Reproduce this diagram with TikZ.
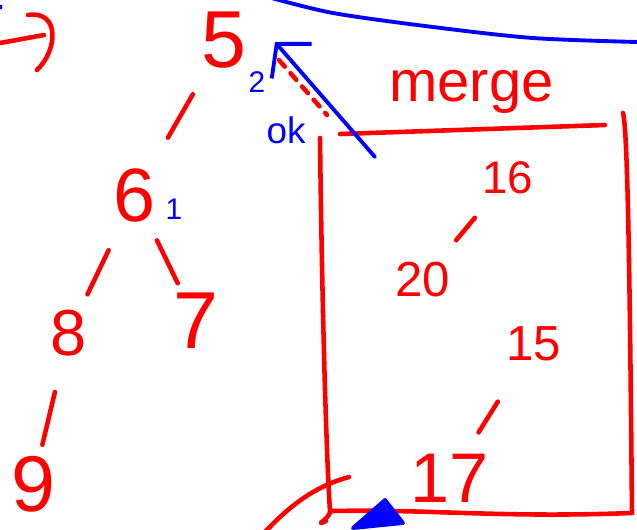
\documentclass[tikz,border=0pt]{standalone}
\usepackage{fontspec}
\setmainfont{Liberation Sans}
\usepackage{tikz}
\usetikzlibrary{arrows.meta,calc}

\begin{document}
\begin{tikzpicture}[x=0.02cm, y=-0.02cm]
\tikzstyle{hk}=[text=red, inner sep=0pt, font=\fontsize{40}{40}\selectfont]
\tikzstyle{hn}=[text=blue, inner sep=0pt, font=\fontsize{17}{17}\selectfont]
\tikzstyle{he}=[draw=red, line width=2.6pt, line cap=round, line join=round]
\tikzstyle{hb}=[draw=blue, line width=2.2pt, line cap=round, line join=round]
\useasboundingbox (0,0) rectangle (637,529);
\clip (0,0) rectangle (637,529);
\node[hk, font=\fontsize{46}{46}\selectfont] (n5) at (224,40) {5};
\node[hk, font=\fontsize{43}{43}\selectfont] (n6) at (135,195) {6};
\node[hk, font=\fontsize{37}{37}\selectfont] (n8) at (69,333) {8};
\node[hk, font=\fontsize{46}{46}\selectfont] (n7) at (196,321) {7};
\node[hk, font=\fontsize{45}{45}\selectfont] (n9) at (33,484) {9};
\node[hk, font=\fontsize{26}{26}\selectfont] (m16) at (508,178) {16};
\node[hk, font=\fontsize{28}{28}\selectfont] (m20) at (423,280) {20};
\node[hk, font=\fontsize{28}{28}\selectfont] (m15) at (534,344) {15};
\node[hk, font=\fontsize{40}{40}\selectfont] (m17) at (450,478) {17};
\node[hk, font=\fontsize{33}{33}\selectfont, anchor=base west] (mg) at (389,101) {merge};
\node[hn] (c2) at (257,82) {2};
\node[hn] (c1) at (174,209) {1};
\node[hn, font=\fontsize{21}{21}\selectfont] (ok) at (286,130) {ok};
\draw[he] ($(n5)!0.35!(n6)$) -- ($(n5)!0.63!(n6)$);
\draw[he] ($(n6)!0.40!(n8)$) -- ($(n6)!0.72!(n8)$);
\draw[he] ($(n6)!0.36!(n7)$) -- ($(n6)!0.70!(n7)$);
\draw[he] ($(n8)!0.39!(n9)$) -- ($(n8)!0.74!(n9)$);
\draw[he] ($(m16)!0.39!(m20)$) -- ($(m16)!0.61!(m20)$);
\draw[he] ($(m15)!0.43!(m17)$) -- ($(m15)!0.66!(m17)$);
\draw[he] (340,134) -- (605,125);
\draw[he] (320,138) .. controls (322,300) and (326,450) .. (330,511)
  .. controls (331,518) and (312,527) .. (326,521);
\draw[he] (332,511) .. controls (430,509) and (500,518) .. (632,513);
\draw[he] (623,113) .. controls (628,130) and (630,300) .. (632,513);
\draw[he, dash pattern=on 5pt off 5pt] (279,60) -- (327,115);
\coordinate (tl) at (375,157);
\coordinate (hd) at (275,42);
\draw[hb, -{Straight Barb[length=13pt, width=30pt]}] (tl) -- (hd);
\draw[hb] plot[smooth] coordinates {(268,-3) (333,13) (433,27) (533,38) (637,42)};
\fill[blue] (0,7) circle (2.5);
\draw[he] (0,43) -- (44,35);
\draw[he] (28,15) .. controls (60,10) and (58,50) .. (37,70);
\draw[he] (265,532) .. controls (295,500) and (320,485) .. (349,477);
\filldraw[hb, fill=blue] (385,500) -- (353,528) -- (403,523) -- cycle;
\end{tikzpicture}
\end{document}
